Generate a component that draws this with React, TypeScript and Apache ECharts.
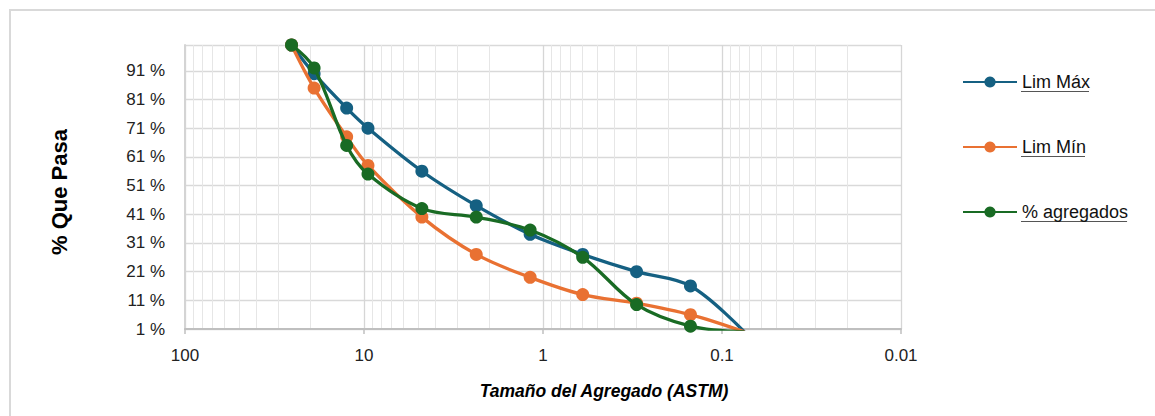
import React, { useEffect, useRef } from "react";
import * as echarts from "echarts";

// Sieve openings (mm) and % passing
const SIEVES = [25.4, 19.0, 12.5, 9.5, 4.75, 2.36, 1.18, 0.6, 0.3, 0.15, 0.075];
const LIM_MAX = [100, 90, 78, 71, 56, 44, 34, 27, 21, 16, 0];
const LIM_MIN = [100, 85, 68, 58, 40, 27, 19, 13, 10, 6, 0];
const AGREGADOS = [100, 92, 65, 55, 43, 40, 35.5, 26, 9.5, 2, 0];

const SERIES_NAMES = ["Lim Máx", "Lim Mín", "% agregados"];
const SERIES_COLORS = ["#156082", "#E97132", "#196B24"];

// minor log grid lines (2..9 within each decade)
const MINOR_MULT = [2, 3, 4, 5, 6, 7, 8, 9];
const DECADES = [0.01, 0.1, 1, 10];

const X_TITLE = "Tamaño del Agregado (ASTM)";
const Y_TITLE = "% Que Pasa";

export default function App() {
  const ref = useRef<HTMLDivElement>(null);

  useEffect(() => {
    if (!ref.current) return;
    const chart = echarts.init(ref.current, null, { renderer: "svg" });

    const minorLines: number[] = [];
    DECADES.forEach((d) => MINOR_MULT.forEach((m) => minorLines.push(+(d * m).toPrecision(3))));

    const allSeries = [LIM_MAX, LIM_MIN, AGREGADOS];

    const legendFont = '18px "Liberation Sans"';
    const ctx = document.createElement("canvas").getContext("2d");
    const widths = SERIES_NAMES.map((n) => {
      if (!ctx) return 70;
      ctx.font = legendFont;
      return ctx.measureText(n).width;
    });

    const legendLeft = 962;
    const legendTop = 72;
    const itemStep = 65;
    const textX = legendLeft + 54 + 5;

    const fmtX = (v: number) => {
      if (v >= 1) return String(Math.round(v));
      return String(parseFloat(v.toPrecision(1)));
    };

    chart.setOption({
      animation: false,
      backgroundColor: "#ffffff",
      grid: { left: 185, top: 45, right: 254, bottom: 87, containLabel: false },
      legend: {
        orient: "vertical",
        left: legendLeft,
        top: legendTop,
        padding: 0,
        itemWidth: 54,
        itemHeight: 14,
        itemGap: itemStep - 20,
        data: SERIES_NAMES,
        textStyle: {
          fontFamily: "Liberation Sans",
          fontSize: 18,
          color: "#111111",
          lineHeight: 20,
        },
        selectedMode: false,
      },
      xAxis: {
        type: "log",
        logBase: 10,
        min: 0.01,
        max: 100,
        inverse: true,
        axisLine: { show: true, lineStyle: { color: "#bfbfbf", width: 2 } },
        axisTick: { show: true, length: 5, lineStyle: { color: "#bfbfbf", width: 1.5 } },
        axisLabel: {
          margin: 18,
          fontFamily: "Liberation Sans",
          fontSize: 17,
          color: "#222222",
          formatter: fmtX,
        },
        splitLine: { show: true, lineStyle: { color: "#d6d6d6", width: 1.3 } },
        minorTick: { show: false },
        minorSplitLine: { show: false },
      },
      yAxis: {
        type: "value",
        min: 1,
        max: 100,
        interval: 10,
        axisLine: { show: true, lineStyle: { color: "#d4d4d4", width: 2 } },
        axisTick: { show: false },
        axisLabel: {
          margin: 20,
          fontFamily: "Liberation Sans",
          fontSize: 17,
          color: "#222222",
          showMaxLabel: false,
          formatter: (v: number) => (v >= 100 ? "" : `${v} %`),
        },
        splitLine: { show: true, lineStyle: { color: "#d9d9d9", width: 1.3 } },
      },
      series: [
        {
          name: "__minor",
          type: "line",
          data: [],
          z: 0,
          silent: true,
          markLine: {
            z: 0,
            silent: true,
            symbol: ["none", "none"],
            label: { show: false },
            lineStyle: { color: "#e6e6e6", width: 1, type: "solid" },
            emphasis: { disabled: true },
            data: minorLines.map((v) => ({ xAxis: v })),
          },
        },
        ...allSeries.map((vals, i) => ({
          name: SERIES_NAMES[i],
          type: "line",
          smooth: 0.35,
          clip: true,
          symbol: "circle",
          symbolSize: 13,
          z: 3 + i,
          lineStyle: { color: SERIES_COLORS[i], width: 3.3 },
          itemStyle: { color: SERIES_COLORS[i] },
          data: SIEVES.map((s, k) =>
            vals[k] < 1 ? { value: [s, vals[k]], symbol: "none" } : [s, vals[k]]
          ),
        })),
      ],
      graphic: [
        {
          type: "rect",
          silent: true,
          shape: { x: 10, y: 10, width: 1400, height: 1000 },
          style: { fill: "none", stroke: "#d9d9d9", lineWidth: 2 },
        },
        {
          type: "text",
          x: 59,
          y: 192,
          rotation: Math.PI / 2,
          style: {
            text: Y_TITLE,
            font: 'bold 22px "Liberation Sans"',
            fill: "#000000",
            align: "center",
            verticalAlign: "middle",
          },
        },
        {
          type: "text",
          x: 604,
          y: 391,
          style: {
            text: X_TITLE,
            font: 'italic bold 17.5px "Liberation Sans"',
            fill: "#000000",
            align: "center",
            verticalAlign: "middle",
          },
        },
        ...SERIES_NAMES.map((_, i) => ({
          type: "line",
          silent: true,
          shape: {
            x1: textX,
            y1: legendTop + 19.5 + i * itemStep,
            x2: textX + widths[i],
            y2: legendTop + 19.5 + i * itemStep,
          },
          style: { stroke: "#555555", lineWidth: 1 },
        })),
      ],
    });

    return () => chart.dispose();
  }, []);

  return (
    <div
      ref={ref}
      style={{ position: "absolute", left: 0, top: 0, width: 1155, height: 416 }}
    />
  );
}
